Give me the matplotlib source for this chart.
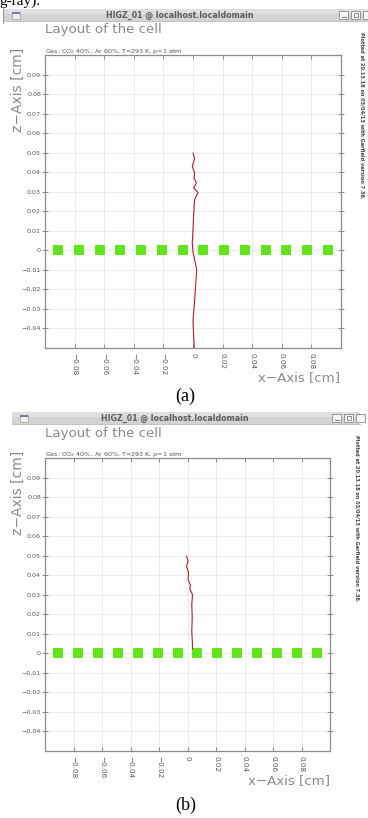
import matplotlib
matplotlib.use('Agg')
import matplotlib.pyplot as plt
from matplotlib.markers import MarkerStyle
from matplotlib.patches import Rectangle

W, H = 368, 818

# sense wires (cm), all on the z = 0 plane
wire_x = [-0.091, -0.077, -0.063, -0.049, -0.035, -0.021, -0.007,
          0.007, 0.021, 0.035, 0.049, 0.063, 0.077, 0.091]
wire_z = [0.0] * len(wire_x)

# drift line (a): starts at z=0.05 and runs through the wire plane
track_a_x = [0.0, 0.0011, -0.0005, 0.0011, 0.0007, 0.0023, 0.0005, 0.0023,
             0.0034, 0.0011, 0.0005, 0.0, -0.0005, 0.0, 0.0011, 0.0025,
             0.0018, 0.001, 0.0004, 0.0, 0.0005, 0.0008]
track_a_z = [0.0498, 0.047, 0.043, 0.0396, 0.037, 0.0345, 0.032, 0.0305,
             0.0296, 0.026, 0.019, 0.0107, 0.004, -0.001, -0.0046, -0.01,
             -0.018, -0.027, -0.032, -0.036, -0.045, -0.0498]

# drift line (b): starts at z=0.05 and ends on a wire
track_b_x = [-0.0007, 0.0004, -0.0007, 0.0007, 0.0004, 0.0021, 0.0016,
             0.0035, 0.003, 0.0033, 0.003, 0.0035, 0.0035]
track_b_z = [0.0497, 0.0472, 0.0446, 0.0412, 0.0377, 0.0349, 0.0331,
             0.030, 0.0249, 0.0181, 0.0113, 0.0044, 0.0024]

x_ticks = [-0.08, -0.06, -0.04, -0.02, 0.0, 0.02, 0.04, 0.06, 0.08]
x_labels = ['\u22120.08', '\u22120.06', '\u22120.04', '\u22120.02', '0',
            '0.02', '0.04', '0.06', '0.08']
z_ticks = [-0.04, -0.03, -0.02, -0.01, 0.0, 0.01, 0.02, 0.03, 0.04,
           0.05, 0.06, 0.07, 0.08, 0.09]
z_labels = ['\u22120.04', '\u22120.03', '\u22120.02', '\u22120.01', '0',
            '0.01', '0.02', '0.03', '0.04', '0.05', '0.06', '0.07',
            '0.08', '0.09']

gas_text = 'Gas: CO$_2$ 40%, Ar 60%, T=293 K, p=1 atm'
stamp = 'Plotted at 20.13.18 on 03/04/13 with Garfield version 7.36.'
win_title = 'HIGZ_01 @ localhost.localdomain'

fig = plt.figure(figsize=(W / 100, H / 100), dpi=100)
fig.patch.set_facecolor('white')

# overlay in pixel coordinates for window decoration and loose text
ov = fig.add_axes([0, 0, 1, 1])
ov.set_xlim(0, W)
ov.set_ylim(H, 0)
ov.axis('off')

grey_txt = '#8a8a8a'
wire_col = '#62e41c'
track_col = '#b0202e'


def window(dy, x0, x1, tcx, right):
    ov.add_patch(Rectangle((x0, 9 + dy), x1 - x0, 12, fc='#d3d3d3', ec='none'))
    ov.add_patch(Rectangle((x0, 9 + dy), x1 - x0, 5, fc='#dfdfdf', ec='none'))
    ov.plot([x0, x1], [21 + dy, 21 + dy], color='#b8b8b8', lw=0.6)
    ov.add_patch(Rectangle((x0 + 8, 11.5 + dy), 8, 7, fc='#eeeeee', ec='#9a9a9a', lw=0.5))
    ov.add_patch(Rectangle((x0 + 8, 11.5 + dy), 8, 2, fc='#6a7fa0', ec='none'))
    ov.text(tcx, 15 + dy, win_title, ha='center', va='center', fontsize=5.7,
            fontweight='bold', color='#5c5c5c')
    for bx in right:
        ov.add_patch(Rectangle((bx, 11 + dy), 9, 8, fc='#f6f6f6', ec='#8a8a8a', lw=0.6))
    ov.plot([right[0] + 2.5, right[0] + 6.5], [17 + dy, 17 + dy], color='#666', lw=0.6)
    ov.add_patch(Rectangle((right[1] + 2.5, 13 + dy), 4, 4, fc='none', ec='#666', lw=0.5))


def cell_plot(l, t, r, b, tx, tz):
    ax = fig.add_axes([l / W, 1 - b / H, (r - l) / W, (b - t) / H])
    ax.set_xlim(-0.1, 0.1)
    ax.set_ylim(-0.05, 0.1)
    ax.grid(True, color='#e9e9e9', lw=0.6)
    ax.set_axisbelow(True)
    ax.plot(tx, tz, color=track_col, lw=0.8, zorder=3)
    ax.plot(wire_x, wire_z, ls='none', marker=MarkerStyle('s', joinstyle='round'),
            ms=6.2, mfc=wire_col, mec=wire_col, mew=1.5, zorder=2)
    ax.set_xticks(x_ticks)
    ax.set_xticklabels(x_labels, rotation=-90, va='top', ha='center')
    ax.set_yticks(z_ticks)
    ax.set_yticklabels(z_labels)
    ax.tick_params(direction='in', length=3, width=0.6, color='#7a7a7a',
                   labelcolor='#555555', top=True, right=True)
    ax.tick_params(axis='x', pad=3.5, labelsize=5.2)
    ax.tick_params(axis='y', direction='inout', length=4, pad=0.8, labelsize=4.6)
    for s in ax.spines.values():
        s.set_color('#8c8c8c')
        s.set_linewidth(0.9)
    return ax


def annotations(dy, r, stamp_x):
    ov.text(45, 30 + dy, 'Layout of the cell', ha='left', va='center',
            fontsize=9.6, color=grey_txt)
    ov.text(45, 51.5 + dy, gas_text, ha='left', va='center', fontsize=4.6,
            color='#555555')
    ov.text(18, 90 + dy, 'z\u2212Axis [cm]', rotation=90, ha='center',
            va='center', fontsize=10, color=grey_txt)
    ov.text(r, 378 + dy, 'x\u2212Axis [cm]', ha='right', va='center',
            fontsize=9.6, color=grey_txt)
    ov.text(stamp_x, 115 + dy, stamp, rotation=-90, ha='center', va='center',
            fontsize=3.6, fontweight='bold', color='#444444')


# cut-off line of the surrounding document text
ov.text(-1, 5, 'g-ray).', ha='left', va='baseline', fontsize=11,
        family='Liberation Serif', color='black')
ov.plot([3, 3], [8, 23], color='#9a9a9a', lw=0.8)

# panel (a)
window(0, 4, 368, 180, [339, 351, 363])
cell_plot(45, 55, 341, 348, track_a_x, track_a_z)
annotations(0, 340, 362)
ov.text(185, 396, '(a)', ha='center', va='center', fontsize=13,
        family='Liberation Serif', color='black')

# panel (b)
dy = 403
window(dy, 12, 360, 175, [332, 344, 356])
cell_plot(45, 55 + dy, 330, 348 + dy, track_b_x, track_b_z)
annotations(dy, 330, 357)
ov.text(186, 805, '(b)', ha='center', va='center', fontsize=13,
        family='Liberation Serif', color='black')

fig.savefig('out.png', dpi=100)
